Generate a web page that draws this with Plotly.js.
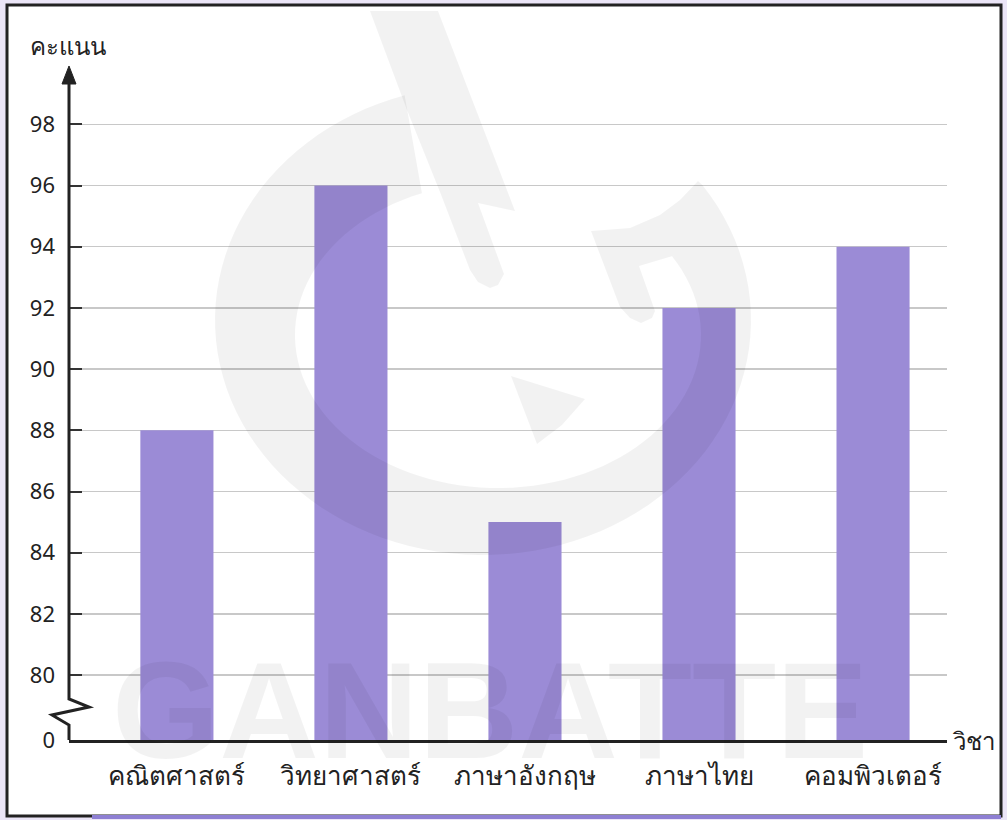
<!DOCTYPE html>
<html>
<head>
<meta charset="utf-8">
<script src="https://cdn.plot.ly/plotly-3.0.1.min.js"></script>
<style>
html,body{margin:0;padding:0;background:#ebe5f7;}
#chart{width:1007px;height:820px;}
</style>
</head>
<body>
<div id="chart"></div>
<script>
// ---- data ----
const subjects = ['คณิตศาสตร์', 'วิทยาศาสตร์', 'ภาษาอังกฤษ', 'ภาษาไทย', 'คอมพิวเตอร์'];
const scores = [88, 96, 85, 92, 94];
const yTickLabels = ['0', '80', '82', '84', '86', '88', '90', '92', '94', '96', '98'];
const yTickValues = [77.88, 80, 82, 84, 86, 88, 90, 92, 94, 96, 98];
const yTitle = 'คะแนน';
const xTitle = 'วิชา';
const watermark = 'GANBATTE';

// ---- layout helpers (pixel -> paper) ----
const W = 1007, H = 820;
const L = 69, R = 947, T = 68, B = 740;
const px = x => (x - L) / (R - L);
const py = y => (B - y) / (B - T);
const pt = (x, y) => px(x).toFixed(5) + ',' + py(y).toFixed(5);
function poly(points) {
  return 'M ' + points.map(p => pt(p[0], p[1])).join(' L ') + ' Z';
}
function ringPath() {
  const o = {cx: 483, cy: 320, rx: 268, ry: 235};
  const i = {cx: 498, cy: 335, rx: 203, ry: 153};
  const pts = [];
  for (let a = 253; a >= -36; a -= 3) {
    const t = a * Math.PI / 180;
    pts.push([o.cx + o.rx * Math.cos(t), o.cy + o.ry * Math.sin(t)]);
  }
  // hooked end of the ring
  [[698, 181], [680, 200], [660, 215], [630, 228], [591, 231], [620, 307], [630, 318], [641, 323], [652, 318], [655, 311], [639, 266], [676, 255]]
    .forEach(p => pts.push(p));
  for (let a = -31; a <= 250; a += 3) {
    const t = a * Math.PI / 180;
    pts.push([i.cx + i.rx * Math.cos(t), i.cy + i.ry * Math.sin(t)]);
  }
  return poly(pts);
}
const wmColor = 'rgba(0,0,0,0.05)';
const FONT = 'Noto Sans, DejaVu Sans, sans-serif';

const trace = {
  type: 'bar',
  x: subjects,
  y: scores,
  marker: {color: '#9b8bd6'},
  hoverinfo: 'x+y'
};

const layout = {
  width: W, height: H,
  margin: {l: L, r: W - R, t: T, b: H - B, pad: 0},
  paper_bgcolor: '#ebe5f7',
  plot_bgcolor: 'rgba(0,0,0,0)',
  showlegend: false,
  bargap: 0.58,
  font: {family: FONT, color: '#222'},
  xaxis: {
    type: 'category',
    range: [-0.62, 4.425],
    showline: true, linecolor: '#222', linewidth: 3,
    showgrid: false, zeroline: false,
    ticks: '', ticklabelstandoff: 11,
    tickfont: {size: 26, color: '#222', family: FONT},
    fixedrange: true
  },
  yaxis: {
    range: [77.88, 99.84],
    tickmode: 'array', tickvals: yTickValues, ticktext: yTickLabels,
    showline: false, zeroline: false,
    showgrid: true, gridcolor: '#c8c8c8', gridwidth: 1.5,
    ticks: 'inside', ticklen: 13, tickwidth: 2, tickcolor: '#333',
    ticklabelstandoff: 13,
    tickfont: {size: 22, color: '#222', family: FONT},
    fixedrange: true
  },
  shapes: [
    // frame
    {type: 'rect', xref: 'paper', yref: 'paper', layer: 'below',
     x0: px(7), x1: px(1001), y0: py(816), y1: py(5),
     fillcolor: '#ffffff', line: {color: '#222', width: 3}},
    {type: 'line', xref: 'paper', yref: 'paper', layer: 'above',
     x0: px(92), x1: px(1001), y0: py(817), y1: py(817),
     line: {color: '#8e7fd3', width: 4}},
    // y axis with break
    {type: 'path', xref: 'paper', yref: 'paper', layer: 'above',
     path: 'M ' + pt(69, 740) + ' L ' + pt(69, 725) + ' L ' + pt(52, 715) +
           ' L ' + pt(89, 707) + ' L ' + pt(69, 699) + ' L ' + pt(69, 80),
     line: {color: '#222', width: 3}},
    // arrow head
    {type: 'path', xref: 'paper', yref: 'paper', layer: 'above',
     path: 'M ' + pt(69, 66) + ' L ' + pt(62, 84) + ' L ' + pt(76, 84) + ' Z',
     fillcolor: '#222', line: {color: '#222', width: 1}},
    // watermark logo
    {type: 'path', xref: 'paper', yref: 'paper', layer: 'above',
     path: ringPath(), fillcolor: wmColor, line: {width: 0}},
    {type: 'path', xref: 'paper', yref: 'paper', layer: 'above',
     path: poly([[370, 11], [438, 11], [515, 211], [478, 203], [504, 274], [498, 285], [490, 288], [478, 282], [470, 270], [440, 192], [407, 110]]),
     fillcolor: wmColor, line: {width: 0}},
    {type: 'path', xref: 'paper', yref: 'paper', layer: 'above',
     path: poly([[511, 376], [585, 399], [562, 425], [537, 444]]),
     fillcolor: wmColor, line: {width: 0}}
  ],
  annotations: [
    {xref: 'paper', yref: 'paper', x: px(28), y: py(45), xanchor: 'left', yanchor: 'middle',
     text: yTitle, showarrow: false, font: {size: 24, color: '#222', family: FONT}},
    {xref: 'paper', yref: 'paper', x: px(950), y: py(740), xanchor: 'left', yanchor: 'middle',
     text: xTitle, showarrow: false, font: {size: 24, color: '#222', family: FONT}},
    {xref: 'paper', yref: 'paper', x: px(490), y: py(710), xanchor: 'center', yanchor: 'middle',
     text: watermark, showarrow: false,
     font: {size: 138, color: wmColor, family: 'Liberation Sans, Arial, sans-serif', weight: 'bold'}}
  ]
};

Plotly.newPlot('chart', [trace], layout, {displayModeBar: false, staticPlot: true});
</script>
</body>
</html>
